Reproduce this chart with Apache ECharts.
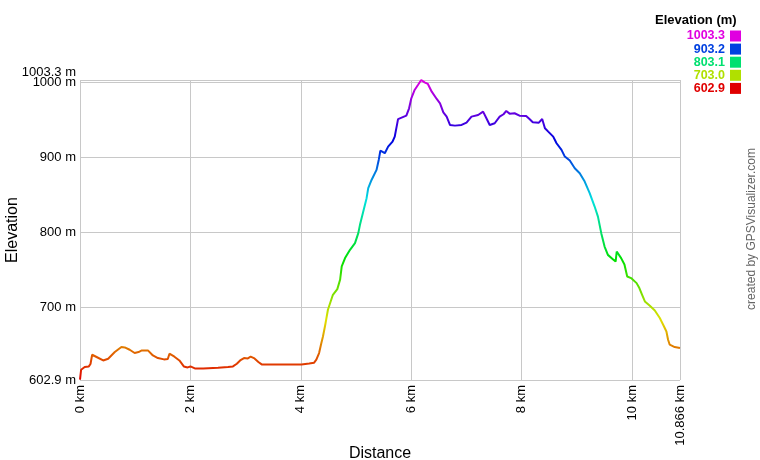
<!DOCTYPE html>
<html>
<head>
<meta charset="utf-8">
<script src="https://cdn.jsdelivr.net/npm/echarts@6/dist/echarts.min.js"></script>
<style>
  html, body { margin: 0; padding: 0; background: #fff; }
  #chart { width: 760px; height: 460px; }
</style>
</head>
<body>
<div id="chart"></div>
<script>
// distance along the track (km) and elevation (m)
const distKm = [0, 0.02, 0.085, 0.16, 0.19, 0.22, 0.30, 0.42, 0.51, 0.63, 0.75, 0.81, 0.90, 0.99, 1.06, 1.12, 1.23, 1.32, 1.41, 1.52,
  1.59, 1.62, 1.71, 1.80, 1.88, 1.95, 2.00, 2.08, 2.23, 2.50, 2.68, 2.77, 2.84, 2.90, 2.97, 3.04, 3.09, 3.16, 3.23, 3.29,
  3.89, 4.01, 4.15, 4.24, 4.28, 4.33, 4.37, 4.40, 4.44, 4.49, 4.58, 4.66, 4.71, 4.74, 4.80, 4.89, 4.98, 5.04, 5.07, 5.13,
  5.19, 5.22, 5.28, 5.37, 5.41, 5.44, 5.52, 5.58, 5.66, 5.70, 5.76, 5.79, 5.91, 5.96, 6.00, 6.06, 6.12, 6.18, 6.24, 6.30,
  6.37, 6.46, 6.52, 6.58, 6.64, 6.70, 6.79, 6.91, 7.00, 7.09, 7.21, 7.30, 7.36, 7.42, 7.51, 7.60, 7.67, 7.72, 7.78, 7.87,
  7.96, 8.08, 8.14, 8.20, 8.31, 8.37, 8.42, 8.48, 8.51, 8.57, 8.63, 8.72, 8.78, 8.87, 8.96, 9.05, 9.14, 9.23, 9.32, 9.38,
  9.44, 9.50, 9.56, 9.65, 9.70, 9.72, 9.80, 9.86, 9.91, 9.98, 10.08, 10.13, 10.18, 10.23, 10.32, 10.41, 10.50, 10.57, 10.62, 10.65,
  10.68, 10.77, 10.866];
const elevM = [603.3, 616.6, 620.2, 621.0, 624.2, 636.6, 633.6, 629.0, 631.3, 640.2, 646.9, 646.4, 643.3, 638.9, 640.2, 642.4, 642.4, 635.7, 632.2, 630.4,
  630.9, 638.0, 634.0, 629.0, 621.0, 619.7, 621.0, 618.4, 618.4, 619.3, 620.2, 621.0, 624.6, 629.0, 632.2, 631.7, 634.0, 631.7, 626.9, 623.7,
  623.7, 623.7, 625.0, 626.0, 630.0, 638.9, 652.0, 661.0, 676.0, 696.6, 716.6, 724.2, 736.6, 754.4, 765.6, 776.6, 785.6, 798.9, 810.0, 827.7,
  845.6, 858.9, 869.9, 883.3, 896.6, 909.0, 905.6, 914.4, 921.0, 927.7, 951.0, 952.2, 955.7, 965.5, 978.9, 990.0, 996.6, 1003.3, 1000.2, 998.0,
  987.7, 978.0, 972.2, 960.2, 954.4, 943.3, 942.4, 943.3, 946.4, 954.4, 956.6, 961.1, 952.2, 943.3, 945.6, 954.4, 957.6, 962.0, 958.4, 958.9,
  955.7, 955.3, 951.3, 946.9, 946.4, 951.3, 938.9, 934.4, 933.0, 927.7, 918.9, 910.0, 901.1, 895.8, 885.6, 878.9, 867.7, 852.2, 834.4, 821.0,
  798.9, 781.0, 769.9, 764.2, 761.0, 774.4, 765.6, 757.0, 741.0, 738.9, 732.2, 725.6, 716.6, 707.7, 702.0, 695.7, 685.6, 675.3, 667.7, 656.6,
  650.0, 646.9, 645.6];

const elevMin = 602.9;
const elevMax = 1003.3;
const distMax = 10.866;

// colour key on the right
const legendValues = ['1003.3', '903.2', '803.1', '703.0', '602.9'];
const legendColors = ['#e000e0', '#0040e0', '#00e070', '#b0e000', '#e00000'];

const font = 'Arial, "Liberation Sans", sans-serif';

const chart = echarts.init(document.getElementById('chart'));

const keyGraphics = [{
  type: 'text', left: 655, top: 14,
  style: { text: 'Elevation (m)', font: 'bold 13px ' + font, fill: '#000' }
}];
legendValues.forEach((v, i) => {
  const cy = 36 + i * 13.1;
  keyGraphics.push({
    type: 'text', x: 725, y: cy,
    style: { text: v, font: 'bold 12.5px ' + font, fill: legendColors[i], align: 'right', verticalAlign: 'middle' }
  });
  keyGraphics.push({
    type: 'rect', shape: { x: 730, y: cy - 5.5, width: 11, height: 11 },
    style: { fill: legendColors[i] }
  });
});
keyGraphics.push({
  type: 'text', x: 752, y: 229, rotation: Math.PI / 2,
  style: { text: 'created by GPSVisualizer.com', font: '12px ' + font, fill: '#666', align: 'center', verticalAlign: 'middle' }
});

const yCommon = {
  type: 'value',
  min: elevMin,
  max: elevMax,
  splitNumber: 4,
  axisLine: { show: false },
  axisTick: { show: false }
};

const option = {
  animation: false,
  backgroundColor: '#fff',
  grid: { left: 80, right: 80, top: 80, bottom: 80, containLabel: false, outerBoundsMode: 'none' },
  visualMap: {
    show: false,
    type: 'continuous',
    seriesIndex: 0,
    dimension: 1,
    min: elevMin,
    max: elevMax,
    inRange: { color: ['#e00000', '#e0e000', '#00e000', '#00e0e0', '#0000e0', '#e000e0'] }
  },
  xAxis: {
    type: 'value',
    min: 0,
    max: distMax,
    interval: 2,
    name: 'Distance',
    nameLocation: 'middle',
    nameGap: 66,
    nameMoveOverlap: false,
    nameTextStyle: { fontFamily: font, fontSize: 16, color: '#000' },
    axisLine: { show: false },
    axisTick: { show: false },
    axisLabel: {
      rotate: 90, margin: 5, fontFamily: font, fontSize: 13, color: '#000',
      showMaxLabel: true,
      formatter: v => v + ' km'
    },
    splitLine: { show: true, lineStyle: { color: '#c8c8c8', width: 1 } }
  },
  yAxis: [Object.assign({}, yCommon, {
    name: 'Elevation',
    nameLocation: 'middle',
    nameRotate: 90,
    nameGap: 59,
    nameMoveOverlap: false,
    nameTextStyle: { fontFamily: font, fontSize: 16, color: '#000' },
    axisLabel: {
      margin: 4, fontFamily: font, fontSize: 13, color: '#000',
      showMinLabel: true, showMaxLabel: false,
      formatter: v => v + ' m'
    },
    splitLine: { show: true, lineStyle: { color: '#c8c8c8', width: 1 } }
  }), Object.assign({}, yCommon, {
    // carries only the top (maximum) label, lifted above the 1000 m one
    position: 'left',
    splitLine: { show: false },
    axisLabel: {
      margin: 4, fontFamily: font, fontSize: 13, color: '#000',
      showMinLabel: false, showMaxLabel: true,
      formatter: v => (v === elevMax ? v + ' m' : ''),
      verticalAlign: 'bottom',
      padding: [0, 0, 1, 0]
    }
  })],
  graphic: keyGraphics,
  series: [{
    type: 'line',
    data: distKm.map((d, i) => [d, elevM[i]]),
    showSymbol: false,
    lineStyle: { width: 2 }
  }]
};
chart.setOption(option);
</script>
</body>
</html>
